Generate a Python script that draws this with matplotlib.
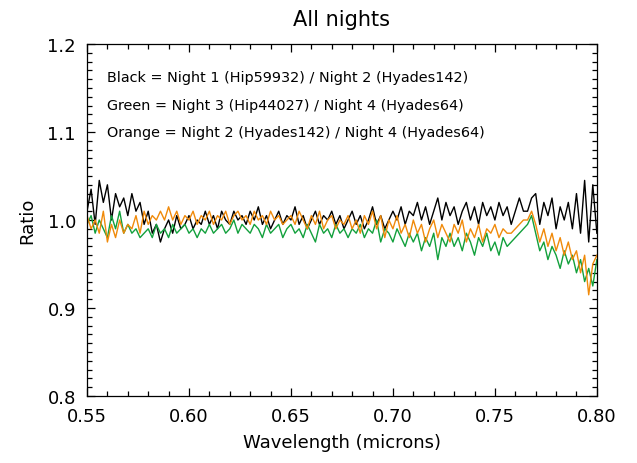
import matplotlib
matplotlib.use("Agg")
import matplotlib.pyplot as plt
import numpy as np
from matplotlib.ticker import MultipleLocator, FormatStrFormatter

# wavelength grid (microns), 0.002 micron steps
wavelength = np.linspace(0.55, 0.80, 126)

black = [1.01, 1.035, 0.995, 1.045, 1.02, 1.04, 1.00, 1.03, 1.015, 1.025,
         1.005, 1.03, 1.01, 1.02, 0.995, 1.01, 0.985, 0.995, 0.975, 0.99,
         1.00, 0.985, 1.005, 0.99, 0.995, 1.005, 0.99, 1.00, 0.995, 1.01,
         0.995, 1.005, 0.99, 1.01, 1.00, 0.995, 1.01, 1.00, 1.005, 0.995,
         1.01, 1.00, 1.015, 0.995, 1.005, 0.99, 1.00, 1.01, 0.995, 1.005,
         1.00, 1.015, 0.995, 1.005, 0.99, 1.00, 1.01, 0.995, 1.005, 1.00,
         1.01, 0.995, 1.005, 0.99, 1.00, 1.01, 0.995, 1.005, 0.99, 1.00,
         1.015, 0.995, 1.005, 0.99, 1.00, 1.01, 1.00, 1.015, 0.995, 1.01,
         1.005, 1.02, 1.00, 1.015, 0.995, 1.01, 1.025, 1.00, 1.02, 1.005,
         1.015, 0.995, 1.01, 1.02, 1.00, 1.015, 0.995, 1.02, 1.005, 1.015,
         1.00, 1.02, 1.005, 1.015, 0.995, 1.01, 1.025, 1.01, 1.01, 1.025,
         1.03, 0.995, 1.02, 1.005, 1.025, 0.99, 1.015, 1.00, 1.02, 0.99,
         1.03, 0.985, 1.045, 0.975, 1.04, 0.985]

green = [0.995, 1.005, 0.985, 1.00, 0.99, 0.98, 1.005, 0.99, 1.01, 0.985,
         0.995, 0.985, 0.99, 0.98, 0.985, 0.99, 0.98, 0.995, 0.985, 0.99,
         0.98, 0.995, 0.985, 0.99, 0.995, 0.985, 0.99, 0.98, 0.99, 0.985,
         0.995, 0.985, 0.99, 0.995, 0.985, 0.99, 1.00, 0.985, 0.995, 0.99,
         0.985, 0.995, 0.99, 0.98, 0.995, 0.985, 0.99, 0.995, 0.98, 0.99,
         0.995, 0.985, 0.99, 0.98, 0.995, 0.985, 0.975, 0.995, 0.985, 0.99,
         0.98, 0.995, 0.985, 0.99, 0.98, 0.99, 0.985, 0.995, 0.98, 0.99,
         0.985, 1.00, 0.975, 0.99, 0.985, 0.975, 0.99, 0.98, 0.97, 0.985,
         0.975, 0.985, 0.965, 0.98, 0.97, 0.985, 0.955, 0.98, 0.97, 0.985,
         0.97, 0.98, 0.965, 0.985, 0.975, 0.96, 0.98, 0.97, 0.985, 0.965,
         0.975, 0.96, 0.98, 0.97, 0.975, 0.98, 0.985, 0.99, 0.995, 1.005,
         0.985, 0.965, 0.975, 0.955, 0.97, 0.96, 0.945, 0.965, 0.95, 0.96,
         0.94, 0.955, 0.93, 0.945, 0.925, 0.955]

orange = [1.005, 0.99, 1.00, 0.985, 1.01, 0.975, 0.995, 0.98, 1.00, 0.985,
          0.995, 0.99, 1.005, 0.985, 1.01, 0.995, 1.005, 1.00, 1.01, 1.00,
          1.015, 1.00, 1.01, 0.995, 1.005, 1.00, 1.01, 0.995, 1.005, 1.00,
          1.01, 0.995, 1.005, 1.00, 1.01, 0.995, 1.005, 1.01, 1.00, 1.005,
          0.995, 1.01, 1.00, 1.005, 0.995, 1.01, 1.00, 1.005, 0.995, 1.00,
          1.005, 0.995, 1.01, 1.00, 0.99, 1.005, 0.995, 1.01, 0.99, 1.00,
          1.005, 0.99, 1.00, 0.995, 1.005, 0.99, 1.00, 0.985, 1.005, 0.995,
          1.01, 0.99, 1.005, 0.98, 1.00, 0.99, 1.005, 0.985, 0.995, 0.98,
          1.00, 0.985, 0.995, 0.975, 0.99, 1.00, 0.98, 0.995, 0.985, 0.975,
          0.995, 0.985, 1.00, 0.975, 0.99, 0.98, 0.995, 0.975, 0.99, 0.985,
          0.995, 0.98, 0.99, 0.985, 0.985, 0.99, 0.995, 1.00, 1.00, 1.01,
          0.995, 0.975, 0.99, 0.97, 0.985, 0.965, 0.98, 0.96, 0.975, 0.955,
          0.965, 0.94, 0.96, 0.915, 0.95, 0.96]

labels = ["Black = Night 1 (Hip59932) / Night 2 (Hyades142)",
          "Green = Night 3 (Hip44027) / Night 4 (Hyades64)",
          "Orange = Night 2 (Hyades142) / Night 4 (Hyades64)"]

fig = plt.figure(figsize=(6.37, 4.64), dpi=100)
ax = fig.add_axes([0.1366, 0.1444, 0.8004, 0.7586])

ax.plot(wavelength, black, color='black', linewidth=1.0)
ax.plot(wavelength, green, color='#12a03c', linewidth=1.0)
ax.plot(wavelength, orange, color='#f08a0a', linewidth=1.0)

# annotations
for i, lab in enumerate(labels):
    ax.text(0.5598, 1.1625 - i * 0.0315, lab, fontsize=10.4, va='center', ha='left')

ax.set_xlim(0.55, 0.80)
ax.set_ylim(0.8, 1.2)
ax.xaxis.set_major_locator(MultipleLocator(0.05))
ax.xaxis.set_minor_locator(MultipleLocator(0.01))
ax.yaxis.set_major_locator(MultipleLocator(0.1))
ax.yaxis.set_minor_locator(MultipleLocator(0.01))
ax.xaxis.set_major_formatter(FormatStrFormatter('%.2f'))
ax.yaxis.set_major_formatter(FormatStrFormatter('%.1f'))
ax.tick_params(which='both', direction='in', top=True, right=True, labelsize=13, width=0.9)
ax.tick_params(which='major', length=6, pad=8)
ax.tick_params(which='minor', length=3.5)
for s in ax.spines.values():
    s.set_linewidth(0.9)

ax.set_title("All nights", fontsize=15, pad=14)
ax.set_xlabel("Wavelength (microns)", fontsize=13, labelpad=6)
ax.set_ylabel("Ratio", fontsize=13, labelpad=8)

plt.savefig("out.png", dpi=100)
